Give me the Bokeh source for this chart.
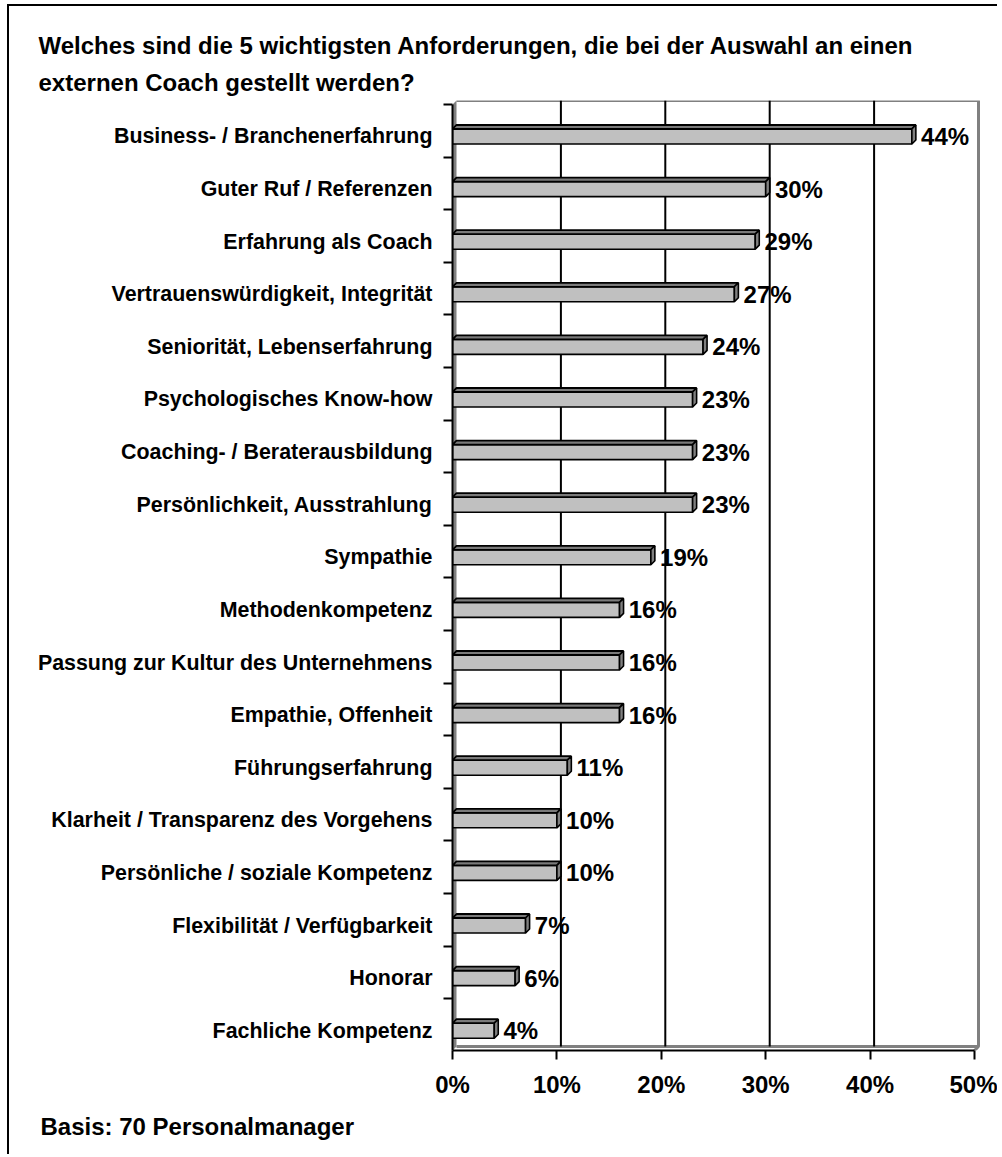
from bokeh.plotting import figure
from bokeh.models import (Range1d, LinearAxis, FixedTicker, PrintfTickFormatter,
                          Title, ColumnDataSource)
from bokeh.embed import file_html
from bokeh.resources import INLINE
from bokeh.core.properties import value

# ---------------- data ----------------
categories = [
    "Business- / Branchenerfahrung",
    "Guter Ruf / Referenzen",
    "Erfahrung als Coach",
    "Vertrauenswürdigkeit, Integrität",
    "Seniorität, Lebenserfahrung",
    "Psychologisches Know-how",
    "Coaching- / Beraterausbildung",
    "Persönlichkeit, Ausstrahlung",
    "Sympathie",
    "Methodenkompetenz",
    "Passung zur Kultur des Unternehmens",
    "Empathie, Offenheit",
    "Führungserfahrung",
    "Klarheit / Transparenz des Vorgehens",
    "Persönliche / soziale Kompetenz",
    "Flexibilität / Verfügbarkeit",
    "Honorar",
    "Fachliche Kompetenz",
]
values = [44, 30, 29, 27, 24, 23, 23, 23, 19, 16, 16, 16, 11, 10, 10, 7, 6, 4]
x_ticks = [0, 10, 20, 30, 40, 50]
grid_ticks = [10, 20, 30, 40]
title_lines = [
    "Welches sind die 5 wichtigsten Anforderungen, die bei der Auswahl an einen",
    "externen Coach gestellt werden?",
]
footnote = "Basis: 70 Personalmanager"

# ---------------- layout / style ----------------
FONT = "Liberation Sans"
PX_X = 10.44          # pixels per percent
PX_Y = 52.6           # pixels per category
DX = 4 / PX_X         # 3D depth, horizontal (data units)
DY = 4 / PX_Y         # 3D depth, vertical (data units)
H = 15 / PX_Y         # bar thickness
Y_TOP_BACK, Y_TOP_FRONT = -0.684, -0.608
Y_BOT_BACK, Y_BOT_FRONT = 17.300, 17.376
X_END = 50 + 2 / PX_X

p = figure(width=990, height=1150, output_backend="svg", toolbar_location=None,
           x_range=Range1d(-DX, X_END), y_range=Range1d(Y_BOT_FRONT, Y_TOP_BACK),
           x_axis_type=None, y_axis_type=None,
           min_border_left=443, min_border_top=94, min_border_right=19,
           min_border_bottom=106)
p.outline_line_color = None
p.background_fill_color = "white"
p.border_fill_color = "white"
p.styles = {"margin-left": "7px", "margin-top": "4px",
            "border-left": "2px solid black", "border-top": "2px solid black"}
p.extra_x_ranges = {"front": Range1d(0, X_END + DX)}

# walls
p.patch([-DX, 0, 0, -DX], [Y_TOP_FRONT, Y_TOP_BACK, Y_BOT_BACK, Y_BOT_FRONT],
        fill_color="#808080", line_color=None)
p.line([0, 50, 50, 0], [Y_TOP_BACK, Y_TOP_BACK, Y_BOT_BACK, Y_BOT_BACK],
       line_color="#808080", line_width=3)
p.line([50, 50 - DX], [Y_BOT_BACK, Y_BOT_FRONT], line_color="#808080", line_width=3)

# gridlines on back wall
p.segment(x0=grid_ticks, x1=grid_ticks, y0=[Y_TOP_BACK] * len(grid_ticks),
          y1=[Y_BOT_BACK] * len(grid_ticks), line_color="black", line_width=2)

# bars
idx = list(range(len(values)))
front = ColumnDataSource(dict(
    left=[-DX] * len(values), right=[v - DX for v in values],
    top=[i - H / 2 for i in idx], bottom=[i + H / 2 for i in idx]))
p.quad(left="left", right="right", top="top", bottom="bottom", source=front,
       fill_color="#c0c0c0", line_color="black", line_width=1.6)
p.patches(xs=[[-DX, v - DX, v, 0] for v in values],
          ys=[[i - H / 2, i - H / 2, i - H / 2 - DY, i - H / 2 - DY] for i in idx],
          fill_color="#7a7a7a", line_color="black", line_width=1.8)
p.patches(xs=[[v - DX, v - DX, v, v] for v in values],
          ys=[[i - H / 2, i + H / 2, i + H / 2 - DY, i - H / 2 - DY] for i in idx],
          fill_color="#808080", line_color="black", line_width=1.6)

# value labels
p.text(x=[v + 0.5 for v in values], y=idx, text=[f"{v}%" for v in values],
       text_font=value(FONT), text_font_style="bold", text_font_size="24px",
       text_color="black", text_align="left", text_baseline="middle")

# y axis (categories)
yax = LinearAxis(ticker=FixedTicker(ticks=idx, minor_ticks=[k - 0.608 for k in range(18)]),
                 major_label_overrides={i: c for i, c in zip(idx, categories)},
                 bounds=(Y_TOP_FRONT, Y_BOT_FRONT))
yax.axis_line_color = "black"
yax.axis_line_width = 2
yax.major_tick_out = 0
yax.major_tick_in = 0
yax.minor_tick_out = 9
yax.minor_tick_in = 0
yax.minor_tick_line_width = 2
yax.minor_tick_line_color = "black"
yax.major_label_standoff = 11
yax.major_label_text_font = FONT
yax.major_label_text_font_style = "bold"
yax.major_label_text_font_size = "21.4px"
yax.major_label_text_color = "black"
p.add_layout(yax, "left")

# x axis (front edge)
xax = LinearAxis(x_range_name="front", ticker=FixedTicker(ticks=x_ticks),
                 formatter=PrintfTickFormatter(format="%d%%"), bounds=(0, 50))
xax.axis_line_color = "black"
xax.axis_line_width = 2
xax.major_tick_out = 9
xax.major_tick_in = 0
xax.major_tick_line_width = 2
xax.major_tick_line_color = "black"
xax.major_label_standoff = 11
xax.major_label_text_font = FONT
xax.major_label_text_font_style = "bold"
xax.major_label_text_font_size = "24px"
xax.major_label_text_color = "black"
p.add_layout(xax, "below")

# title (two lines, outermost added last) and footnote
for line, so in zip(reversed(title_lines), [10, 5]):
    p.add_layout(Title(text=line, align="left", offset=-414, standoff=so,
                       text_font=FONT, text_font_style="bold",
                       text_font_size="24px", text_color="black"), "above")
p.add_layout(Title(text=footnote, align="left", offset=-412, standoff=21,
                   text_font=FONT, text_font_style="bold",
                   text_font_size="24px", text_color="black"), "below")

open("out.html", "w").write(file_html(p, INLINE))
